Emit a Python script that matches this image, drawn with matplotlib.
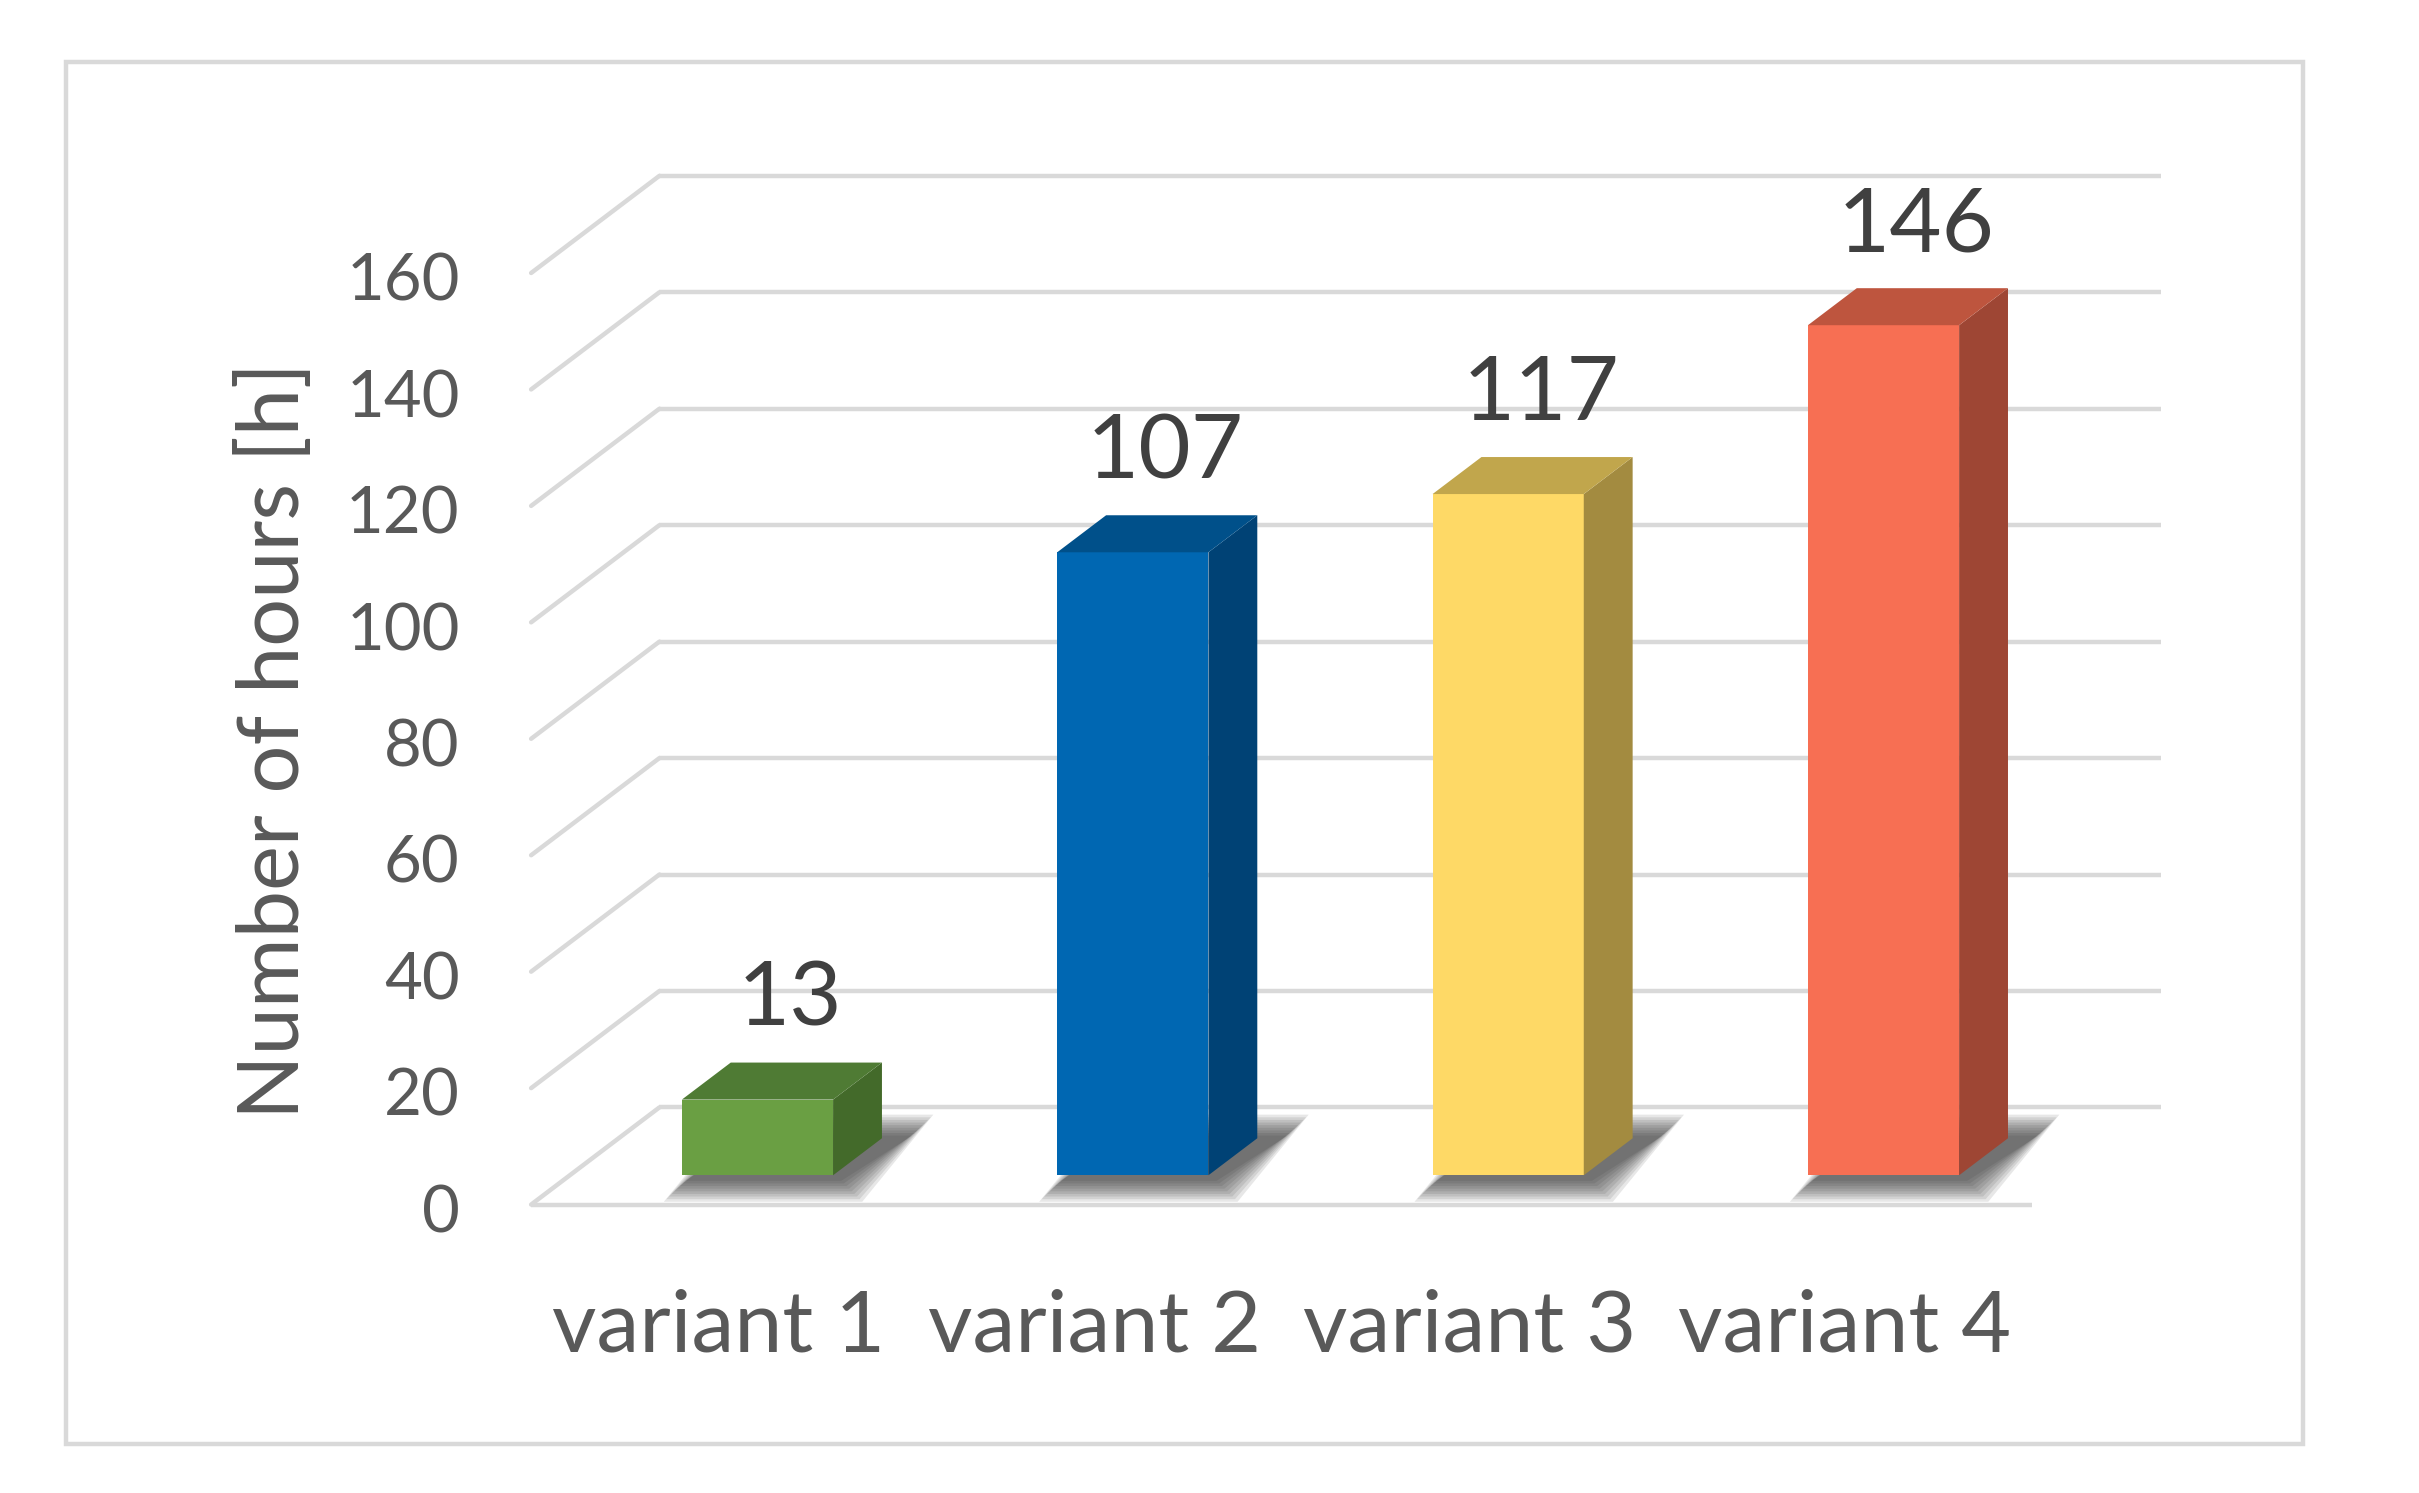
import matplotlib
matplotlib.use("Agg")
import matplotlib.pyplot as plt
from matplotlib.patches import Polygon, Rectangle

# ---------------- data ----------------
categories = ["variant 1", "variant 2", "variant 3", "variant 4"]
values = [13, 107, 117, 146]
yticks = [0, 20, 40, 60, 80, 100, 120, 140, 160]
ylabel = "Number of hours [h]"
front_colors = ["#6A9F43", "#0067B2", "#FED966", "#F76F53"]
side_colors = ["#436A2A", "#004275", "#A38B40", "#9E4634"]
top_colors = ["#4F7B34", "#00508A", "#C1A64C", "#BE553E"]

# ---------------- layout ----------------
W, H = 2419, 1493
REF_W, REF_H = 1568, 968          # layout measured on a 1568-wide view
PX_CAT = 243.3                    # view px per category
PX_VAL = 3.775                    # view px per value unit
X0, Y0 = 491, 762                 # view px of (cat 0, value 0)
OBL = 1.32                        # oblique ratio dx/dy

def shift(t):
    """depth t (view px, backwards) -> (d_cat, d_val)"""
    return OBL * t / PX_CAT, t / PX_VAL

plt.rcParams['font.family'] = ['Lato', 'DejaVu Sans']
fig = plt.figure(figsize=(W / 100, H / 100), dpi=100)
ax = fig.add_axes([0, 0, 1, 1])
ax.set_xlim((0 - X0) / PX_CAT, (REF_W - X0) / PX_CAT)
ax.set_ylim((Y0 - REF_H) / PX_VAL, (Y0 - 0) / PX_VAL)
ax.axis('off')

grid_c = "#D9D9D9"
grid_lw = 3.2
T_BACK, T_FRONT, T_BAR = 44, -19, 24
bdx, bdy = shift(T_BACK)
fdx, fdy = shift(T_FRONT)
cdx, cdy = shift(T_BAR)
xl, xr = -0.5, len(categories) - 0.5

# back wall gridlines + left diagonals
for v in yticks:
    ax.plot([xl + bdx, xr + bdx], [v + bdy, v + bdy], color=grid_c, lw=grid_lw,
            solid_capstyle='butt', zorder=1)
    ax.plot([xl + fdx, xl + bdx], [v + fdy, v + bdy], color=grid_c, lw=grid_lw,
            solid_capstyle='round', zorder=1)
# floor front edge
ax.plot([xl + fdx, xr + fdx], [fdy, fdy], color=grid_c, lw=grid_lw,
        solid_capstyle='butt', zorder=1)

# tick labels
for v in yticks:
    ax.text((298 - X0) / PX_CAT, v + fdy - 6 / PX_VAL, str(v), ha='right',
            va='center', fontsize=47, color="#595959", zorder=4)

# axis title
ax.text((178 - X0) / PX_CAT, (Y0 - 480) / PX_VAL, ylabel, rotation=90,
        ha='center', va='center', fontsize=61, color="#595959", zorder=4)

bw = 98 / PX_CAT
for i, (cat, v) in enumerate(zip(categories, values)):
    l, r = i - bw / 2, i + bw / 2
    # shadow (layered for blur)
    sdx = 18 / PX_CAT
    for k in range(9):
        e = (9 - k) * 1.7
        ex, ev = e / PX_CAT, e / PX_VAL
        poly = [(l - ex + sdx * 0.2, -ev - 0.5),
                (r + ex + sdx * 0.2, -ev - 0.5),
                (r + cdx + ex + sdx, cdy + ev),
                (l + cdx - ex + sdx, cdy + ev)]
        ax.add_patch(Polygon(poly, closed=True, facecolor="#2A2A2A",
                             edgecolor='none', alpha=0.11, zorder=2))
    # front face
    ax.add_patch(Rectangle((l, 0), bw, v, facecolor=front_colors[i],
                           edgecolor='none', zorder=3))
    # side face
    ax.add_patch(Polygon([(r, 0), (r + cdx, cdy), (r + cdx, v + cdy), (r, v)],
                         closed=True, facecolor=side_colors[i],
                         edgecolor='none', zorder=3))
    # top face
    ax.add_patch(Polygon([(l, v), (r, v), (r + cdx, v + cdy), (l + cdx, v + cdy)],
                         closed=True, facecolor=top_colors[i],
                         edgecolor='none', zorder=3))
    # data label
    ax.text(i + 21 / PX_CAT, v + 64 / PX_VAL, str(v), ha='center', va='center',
            fontsize=65, color="#404040", zorder=4)
    # category label
    ax.text(i + fdx, (Y0 - 861) / PX_VAL, cat, ha='center', va='center',
            fontsize=62, color="#595959", zorder=4)

# outer border
fig.patches.append(Rectangle((43 / REF_W, 1 - 936 / REF_H),
                             (1493 - 43) / REF_W, (936 - 40) / REF_H,
                             transform=fig.transFigure, fill=False,
                             edgecolor=grid_c, lw=3.2, zorder=0))

fig.savefig("out.png", dpi=100, facecolor="white")
